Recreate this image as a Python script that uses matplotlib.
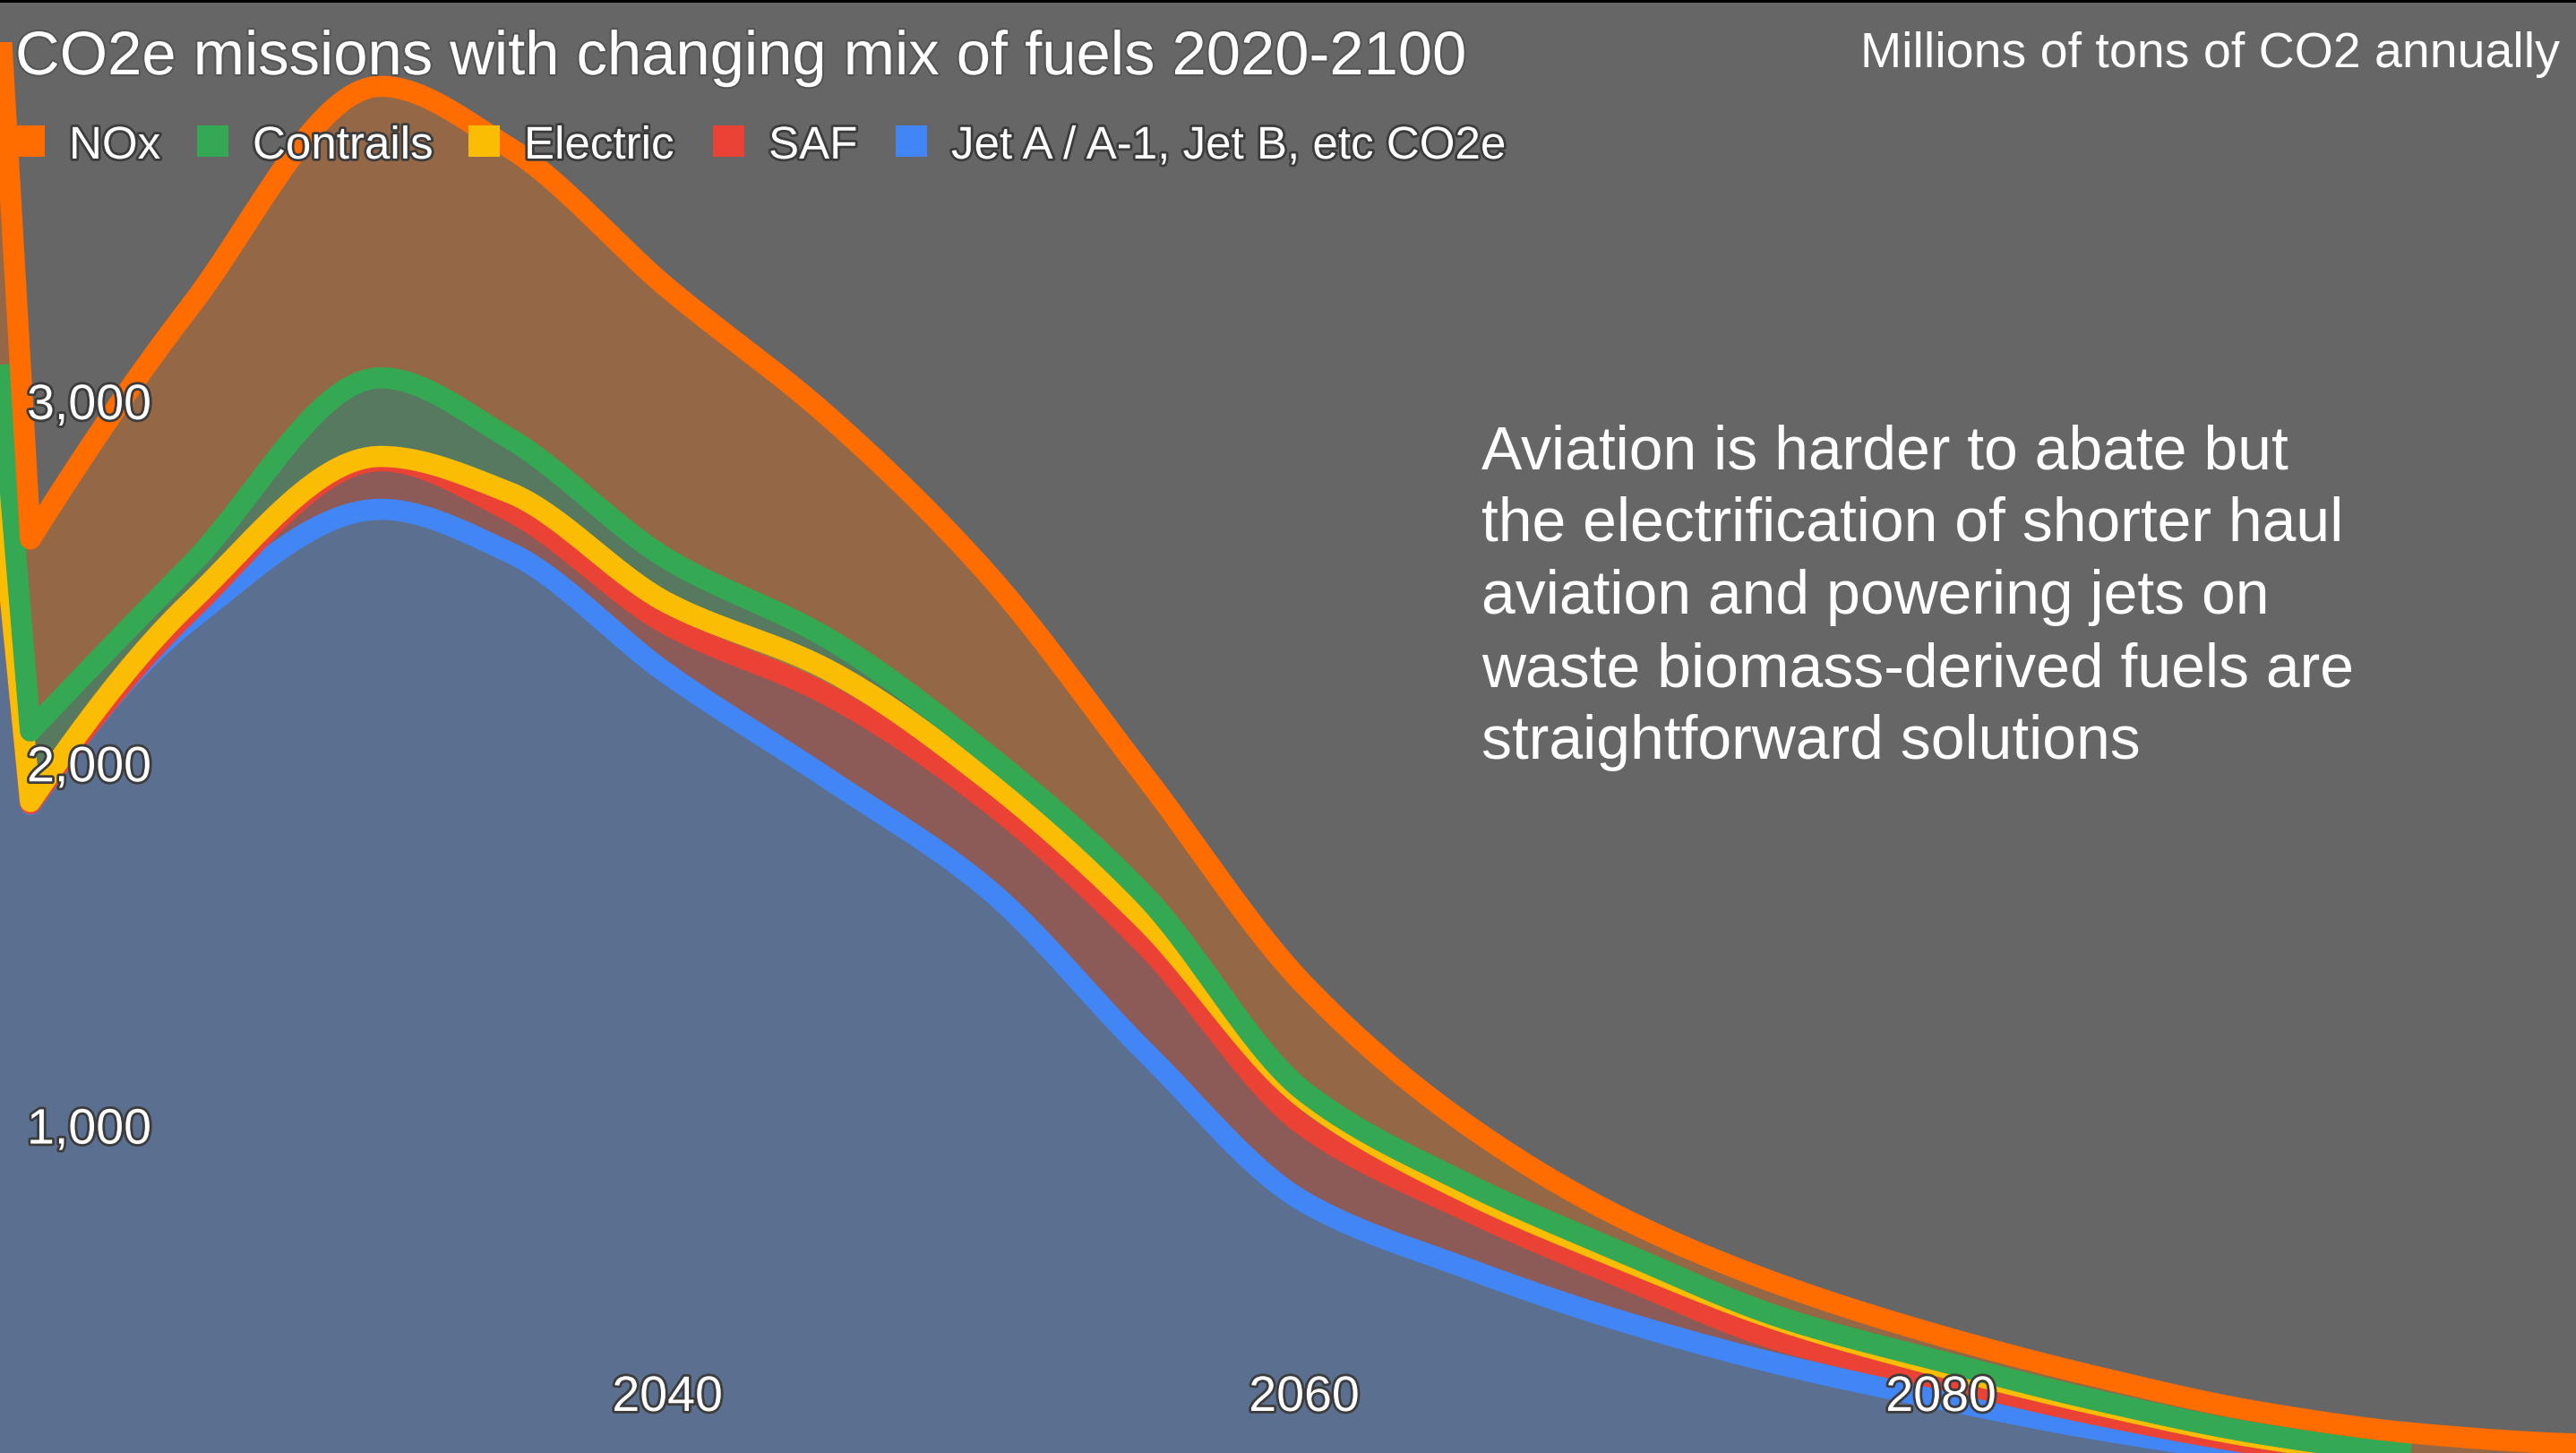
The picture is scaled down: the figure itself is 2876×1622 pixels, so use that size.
import numpy as np
import matplotlib
matplotlib.use("Agg")
import matplotlib.pyplot as plt
import matplotlib.patheffects as pe
from matplotlib.patches import Rectangle

plt.rcParams['font.family'] = ['Liberation Sans', 'DejaVu Sans']

# data (millions of tons CO2e per year), stacked bottom -> top
years     = [2019, 2020, 2025, 2031, 2035, 2040, 2045, 2050, 2055, 2060, 2065, 2070, 2075, 2080, 2085, 2090, 2095, 2100]
jet_a     = [2780, 1887, 2395, 2702, 2585, 2248, 1961, 1659, 1205, 790, 610, 460, 340, 245, 160, 95, 50, 25]
saf       = [5, 2, 25, 134, 115, 136, 230, 241, 295, 210, 160, 120, 65, 55, 40, 25, 18, 15]
electric  = [5, 6, 24, 12, 50, 60, 70, 60, 68, 75, 50, 50, 55, 35, 28, 18, 14, 12]
contrails = [354, 195, 101, 217, 150, 121, 87, 70, 68, 20, 25, 20, 10, 15, 12, 12, 10, 8]
nox       = [989, 530, 715, 805, 803, 749, 615, 500, 329, 295, 165, 95, 90, 70, 65, 60, 58, 61]

series = [
    ('Jet A / A-1, Jet B, etc CO2e', jet_a, '#4285F4'),
    ('SAF', saf, '#EA4335'),
    ('Electric', electric, '#FBBC04'),
    ('Contrails', contrails, '#34A853'),
    ('NOx', nox, '#FF6D01'),
]

BG = '#666666'
W, H = 2876, 1622


def pchip(xs, ys, xnew):
    """monotone cubic interpolation (fritsch-carlson), no scipy needed"""
    x = np.asarray(xs, float)
    y = np.asarray(ys, float)
    h = np.diff(x)
    d = np.diff(y) / h
    n = len(x)
    m = np.zeros(n)
    for k in range(1, n - 1):
        if d[k - 1] * d[k] > 0:
            w1 = 2 * h[k] + h[k - 1]
            w2 = h[k] + 2 * h[k - 1]
            m[k] = (w1 + w2) / (w1 / d[k - 1] + w2 / d[k])

    def end_slope(h0, h1, d0, d1):
        s = ((2 * h0 + h1) * d0 - h0 * d1) / (h0 + h1)
        if np.sign(s) != np.sign(d0):
            s = 0.0
        elif np.sign(d0) != np.sign(d1) and abs(s) > 3 * abs(d0):
            s = 3 * d0
        return s

    m[0] = end_slope(h[0], h[1], d[0], d[1])
    m[-1] = end_slope(h[-1], h[-2], d[-1], d[-2])

    idx = np.clip(np.searchsorted(x, xnew) - 1, 0, n - 2)
    t = (xnew - x[idx]) / h[idx]
    h00 = 2 * t ** 3 - 3 * t ** 2 + 1
    h10 = t ** 3 - 2 * t ** 2 + t
    h01 = -2 * t ** 3 + 3 * t ** 2
    h11 = t ** 3 - t ** 2
    return h00 * y[idx] + h10 * h[idx] * m[idx] + h01 * y[idx + 1] + h11 * h[idx] * m[idx + 1]


def curve(xnew, ys):
    # sharp drop 2019 -> 2020 is a straight segment, smooth from 2020 on
    lin = np.interp(xnew, years[:2], ys[:2])
    smooth = pchip(years[1:], ys[1:], xnew)
    return np.where(xnew < years[1], lin, smooth)


fig = plt.figure(figsize=(W / 100, H / 100), dpi=100, facecolor=BG)
ax = fig.add_axes([0, 0, 1, 1575 / H])
ax.set_facecolor(BG)
for s in ax.spines.values():
    s.set_visible(False)
ax.set_xticks([])
ax.set_yticks([])
ax.set_xlim(2019.045, 2099.95)
ax.set_ylim(96.5, 3992)

xs = np.unique(np.concatenate([np.linspace(years[0], years[-1], 2000), years]))

# stack the series and draw areas, then lines on top
cum = np.zeros(len(years))
lower = np.zeros_like(xs)
curves = []
for name, vals, color in series:
    cum = cum + np.array(vals, dtype=float)
    y_top = curve(xs, cum)
    ax.fill_between(xs, lower, y_top, color=color, alpha=0.3, lw=0, zorder=1)
    curves.append((y_top, color))
    lower = y_top

for i, (y, color) in enumerate(curves):
    ax.plot(xs, y, color=color, lw=17, solid_joinstyle='round', solid_capstyle='butt', zorder=2 + i)

outline = [pe.withStroke(linewidth=4, foreground='#3c3c3c')]

# axis labels drawn inside the plot
for v in [1000, 2000, 3000]:
    ax.annotate(f'{v:,}', xy=(30 / W, v), xycoords=ax.get_yaxis_transform(),
                xytext=(0, -14.3), textcoords='offset points', va='baseline', ha='left',
                fontsize=40, color='white', path_effects=outline, zorder=20)
for yr in [2040, 2060, 2080]:
    ax.text(yr, 47 / 1575, str(yr), transform=ax.get_xaxis_transform(), ha='center', va='baseline',
            fontsize=40, color='white', path_effects=outline, zorder=20)

# title and units
fig.text(17 / W, 1 - 83 / H, 'CO2e missions with changing mix of fuels 2020-2100', fontsize=49.5,
         color='white', va='baseline', ha='left',
         path_effects=[pe.withStroke(linewidth=3, foreground='#555555')])
fig.text(2858 / W, 1 - 75 / H, 'Millions of tons of CO2 annually', fontsize=40, color='white',
         va='baseline', ha='right')

# legend
legend_items = [('NOx', '#FF6D01', 15, 77), ('Contrails', '#34A853', 220, 282),
                ('Electric', '#FBBC04', 523, 585), ('SAF', '#EA4335', 796, 858),
                ('Jet A / A-1, Jet B, etc CO2e', '#4285F4', 1000, 1062)]
for label, color, sx, tx in legend_items:
    fig.add_artist(Rectangle((sx / W, 1 - 175 / H), 35 / W, 35 / H, transform=fig.transFigure,
                             facecolor=color, edgecolor='none', zorder=30))
    fig.text(tx / W, 1 - 177 / H, label, fontsize=36.8, color='white', va='baseline', ha='left',
             path_effects=outline, zorder=30)

# annotation
note = ['Aviation is harder to abate but',
        'the electrification of shorter haul',
        'aviation and powering jets on',
        'waste biomass-derived fuels are',
        'straightforward solutions']
for k, line in enumerate(note):
    fig.text(1654 / W, 1 - (523 + 81 * k) / H, line, fontsize=48.9, color='white',
             va='baseline', ha='left')

# thin black strip along the top edge
fig.add_artist(Rectangle((0, 1 - 3 / H), 1, 3 / H, transform=fig.transFigure,
                         facecolor='black', edgecolor='none', zorder=40))

fig.savefig('out.png', dpi=100, facecolor=BG)
